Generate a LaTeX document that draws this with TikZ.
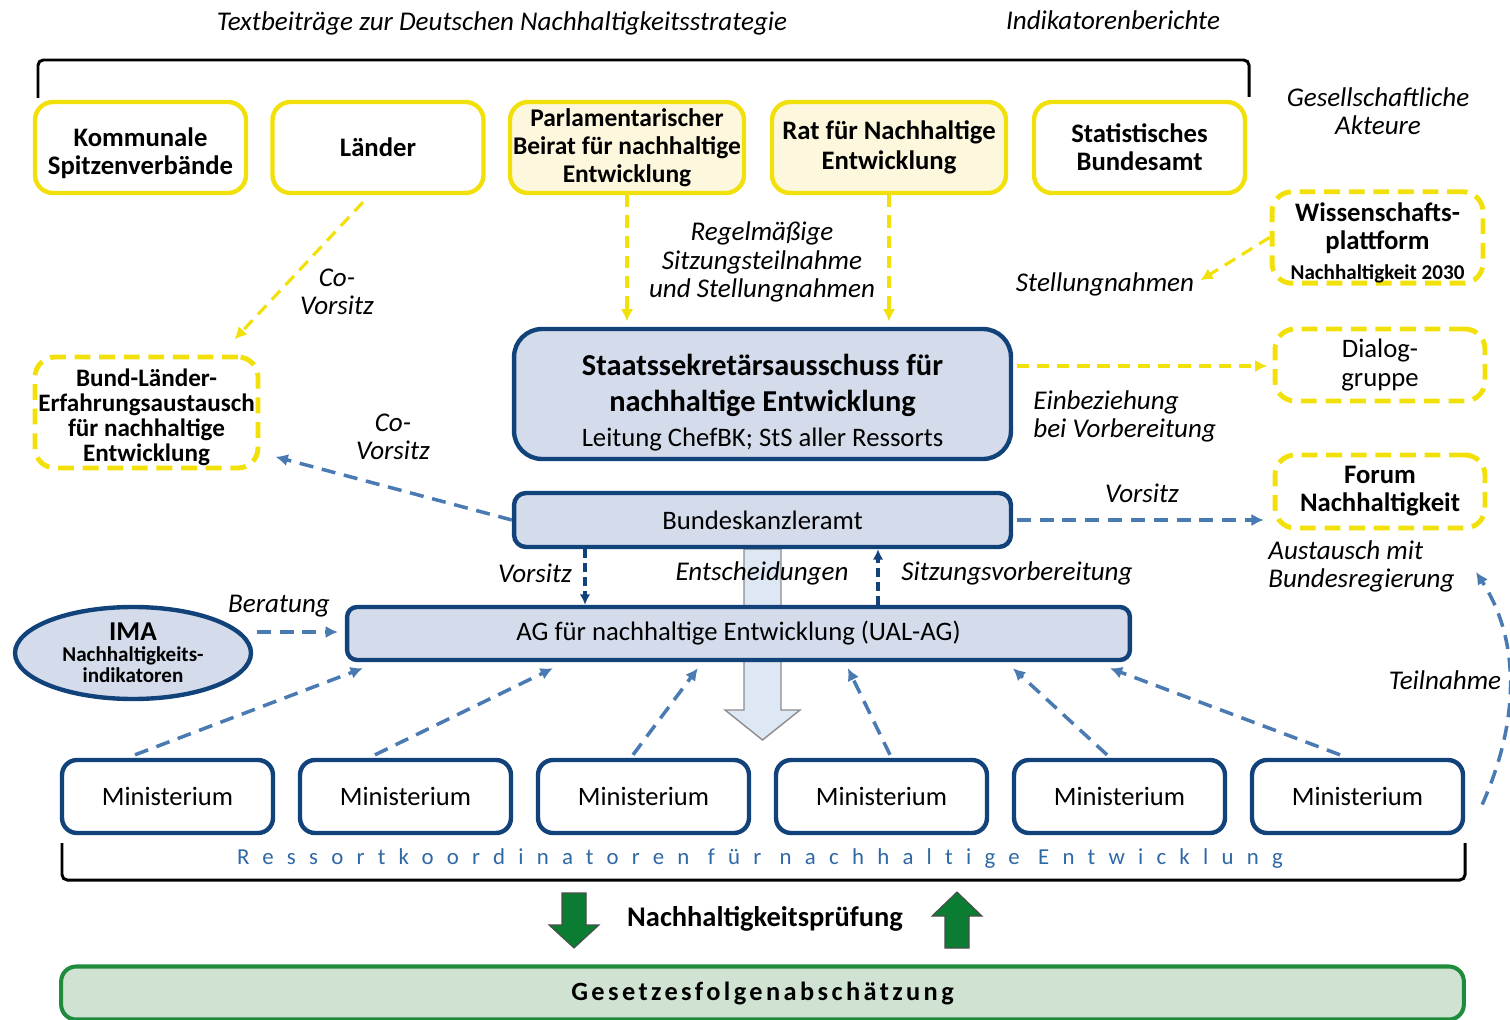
\documentclass[tikz,border=0pt]{standalone}
\usepackage{fontspec}
\setmainfont{Carlito}
\usetikzlibrary{arrows.meta,shapes.geometric,calc}

\definecolor{gelb}{RGB}{242,224,10}
\definecolor{hellgelb}{RGB}{253,248,221}
\definecolor{marine}{RGB}{18,66,122}
\definecolor{hellblau}{RGB}{212,220,235}
\definecolor{pfeilblau}{RGB}{74,122,178}
\definecolor{textblau}{RGB}{46,104,165}
\definecolor{gruen}{RGB}{30,140,60}
\definecolor{hellgruen}{RGB}{208,227,211}
\definecolor{pfeilgruen}{RGB}{10,125,50}
\definecolor{blockblau}{RGB}{222,231,244}

\begin{document}
\begin{tikzpicture}[x=0.02cm, y=-0.02cm,
  every node/.style={inner sep=0pt, align=center},
  ybox/.style={draw=gelb, line width=2.5pt, rounded corners=0.36cm, fill=white,
    minimum width=4.22cm, minimum height=1.82cm,
    font=\bfseries\fontsize{15.2}{16}\selectfont},
  ydash/.style={draw=gelb, line width=2.8pt, dash pattern=on 9pt off 5pt,
    rounded corners=0.4cm, font=\bfseries\fontsize{15.2}{16}\selectfont},
  bbox/.style={draw=marine, line width=2.5pt, fill=hellblau,
    font=\fontsize{15.2}{16}\selectfont},
  minbox/.style={draw=marine, line width=2.5pt, fill=white, rounded corners=0.3cm,
    minimum width=4.22cm, minimum height=1.46cm, font=\fontsize{15.1}{16}\selectfont},
  lbl/.style={font=\itshape\fontsize{15.4}{16}\selectfont},
  yarr/.style={draw=gelb, line width=1.8pt, dash pattern=on 7pt off 4.5pt,
    -{Latex[length=7pt,width=7pt]}},
  barr/.style={draw=pfeilblau, line width=2pt, dash pattern=on 8pt off 5pt,
    -{Latex[length=7pt,width=7pt]}},
  narr/.style={draw=marine, line width=1.8pt, dash pattern=on 5pt off 3pt,
    -{Latex[length=6pt,width=6pt]}},
  gpfeil/.style={fill=pfeilgruen, draw=black!70, line width=0.6pt}]
\useasboundingbox (0,0) rectangle (1510,1020);

% Klammern oben und unten
\draw[line width=1.7pt, rounded corners=3pt] (38,98) -- (38,60) -- (1249,60) -- (1249,97);
\draw[line width=1.7pt, rounded corners=3pt] (62,843) -- (62,880) -- (1465,880) -- (1465,843);
\node[lbl] (tdn) at (502,23) {Textbeiträge zur Deutschen Nachhaltigkeitsstrategie};
\node[lbl] (ind) at (1113,20) {Indikatorenberichte};

% Blockpfeil Entscheidungen (hinter den Kästen)
\draw[draw=black!45, fill=blockblau, line width=0.8pt]
  (744,549) -- (781,549) -- (781,710) -- (800,710) -- (762.5,740) -- (725,710) -- (744,710) -- cycle;

% obere Reihe
\node[ybox] (kom) at (140.5,147.5) {\rule{0pt}{17pt}Kommunale\\Spitzenverbände};
\node[ybox] (lae) at (378,147.5) {Länder};
\node[ybox, fill=hellgelb, minimum width=4.68cm, font=\bfseries\fontsize{14.5}{16}\selectfont] (pbr) at (627,147.5)
  {Parlamentarischer\\Beirat für nachhaltige\\Entwicklung};
\node[ybox, fill=hellgelb, minimum width=4.68cm, font=\bfseries\fontsize{15.2}{17}\selectfont] (rne) at (889,147.5) {Rat für Nachhaltige\\Entwicklung};
\node[ybox] (sba) at (1139.5,147.5) {Statistisches\\Bundesamt};

% gesellschaftliche Akteure
\node[lbl] (ges) at (1378,111) {Gesellschaftliche\\Akteure};
\node[ydash, minimum width=4.22cm, minimum height=1.82cm] (wpf) at (1377.5,237.5)
  {\rule{0pt}{17pt}Wissenschafts-\\plattform\\[1pt]{\fontsize{12}{13}\selectfont Nachhaltigkeit 2030}};
\node[ydash, minimum width=4.2cm, minimum height=1.44cm, font=\fontsize{15.2}{17}\selectfont] (dlg) at (1380,365) {Dialog-\\gruppe};
\node[ydash, minimum width=4.2cm, minimum height=1.46cm] (frm) at (1380,491.5) {Forum\\Nachhaltigkeit};
\node[ydash, minimum width=4.46cm, minimum height=2.22cm, font=\bfseries\fontsize{14.3}{14.2}\selectfont] (blx) at (146.5,412.5)
  {\rule{0pt}{15.3pt}Bund-Länder-\\Erfahrungsaustausch\\für nachhaltige\\Entwicklung};

% Bundesregierung
\node[bbox, rounded corners=0.56cm, minimum width=9.94cm, minimum height=2.6cm, font=\fontsize{15.2}{20}\selectfont] (sts) at (762.5,394)
  {{\bfseries\fontsize{17.3}{20}\selectfont\rule{0pt}{22pt}Staatssekretärsausschuss für}\\
   {\bfseries\fontsize{17.3}{20}\selectfont nachhaltige Entwicklung}\\
   Leitung ChefBK; StS aller Ressorts};
\node[bbox, rounded corners=0.24cm, minimum width=9.94cm, minimum height=1.08cm] (bka) at (762.5,520) {Bundeskanzleramt};
\node[bbox, rounded corners=0.2cm, minimum width=15.66cm, minimum height=1.06cm] (ag) at (738.5,633.5) {AG für nachhaltige Entwicklung (UAL-AG)};
\node[bbox, ellipse, minimum width=4.72cm, minimum height=1.84cm, font=\bfseries] (ima) at (133,653)
  {{\fontsize{15.5}{15}\selectfont IMA}\\
   {\fontsize{12}{11.5}\selectfont Nachhaltigkeits-}\\
   {\fontsize{12}{11.5}\selectfont indikatoren}};

% Ministerien
\foreach \i in {1,...,6}
  \node[minbox] (min\i) at ({167.5+238*(\i-1)},796.5) {Ministerium};
\node[font=\fontsize{13}{14}\selectfont\addfontfeatures{LetterSpace=58,Ligatures=NoCommon}, text=textblau] (rko) at (760,859)
  {Ressortkoordinatoren für nachhaltige Entwicklung};

% Gesetzesfolgenabschaetzung
\node[draw=gruen, fill=hellgruen, line width=2.3pt, rounded corners=0.3cm, minimum width=28.06cm, minimum height=1.06cm,
  font=\bfseries\fontsize{15}{16}\selectfont\addfontfeatures{LetterSpace=13,Ligatures=NoCommon}] (gfa) at (762.5,993) {Gesetzesfolgenabschätzung};
\node[font=\bfseries\fontsize{16.2}{17}\selectfont] (npr) at (765,919) {Nachhaltigkeitsprüfung};
\draw[gpfeil] (562,893) -- (586,893) -- (586,925) -- (599,925) -- (574,948) -- (549,925) -- (562,925) -- cycle;
\draw[gpfeil] (945,948) -- (969,948) -- (969,916) -- (982,916) -- (957,892) -- (932,916) -- (945,916) -- cycle;

% gelbe Pfeile
\draw[yarr] ($(lae.south)+(-15,7)$) -- ($(blx.north east)+(-26,-15)$);
\node[lbl] (cv1) at (337,292) {Co-\\Vorsitz};
\draw[yarr, shorten >=3pt] (pbr.south) -- (pbr.south |- sts.north);
\draw[yarr, shorten >=3pt] (rne.south) -- (rne.south |- sts.north);
\node[lbl] (reg) at (762,262) {Regelmäßige\\Sitzungsteilnahme\\und Stellungnahmen};
\node[lbl] (stl) at (1105,284) {Stellungnahmen};
\draw[yarr, shorten >=4pt] (wpf.west) -- (stl.east);
\draw[yarr, shorten <=2pt, shorten >=3pt] (sts.east |- 0,366) -- (dlg.west |- 0,366);
\node[lbl, anchor=west, align=left] (ein) at (1033,416) {Einbeziehung\\bei Vorbereitung};

% blaue Pfeile
\draw[barr, shorten >=3pt] (bka.west) -- ($(blx.south east)+(10,-15)$);
\node[lbl] (cv2) at (393,437) {Co-\\Vorsitz};
\draw[barr, shorten <=2pt, shorten >=5pt] (bka.east) -- (frm.west |- bka.east);
\node[lbl] (vs1) at (1142,493) {Vorsitz};
\draw[narr] (bka.south -| 585,0) -- (ag.north -| 585,0);
\draw[narr] (ag.north -| 878,0) -- (bka.south -| 878,0);
\node[lbl] (vs2) at (535,573) {Vorsitz};
\node[lbl] (ent) at (762,573) {Entscheidungen};
\node[lbl] (szv) at (1017,573) {Sitzungsvorbereitung};
\draw[barr, shorten <=2pt, shorten >=4pt] (ima.east |- 0,632) -- (ag.west |- 0,632);
\node[lbl] (ber) at (279,606) {Beratung};
\foreach \i/\a/\b in {1/-32.5/18, 2/-30.5/208, 3/-10.5/353, 4/8.5/503, 5/-12.5/668, 6/-17.5/765}
  \draw[barr] ($(min\i.north)+(\a,-3)$) -- ($(ag.south west)+(\b,6)$);
\node[lbl, anchor=west, align=left] (aus) at (1268,566) {Austausch mit\\Bundesregierung};
\node[lbl] (tln) at (1445,680) {Teilnahme};
\coordinate (tn) at (1476,572);
\draw[barr] ($(min6.east)+(17,8)$) .. controls (1520,720) and (1520,640) .. (tn);
\end{tikzpicture}
\end{document}
